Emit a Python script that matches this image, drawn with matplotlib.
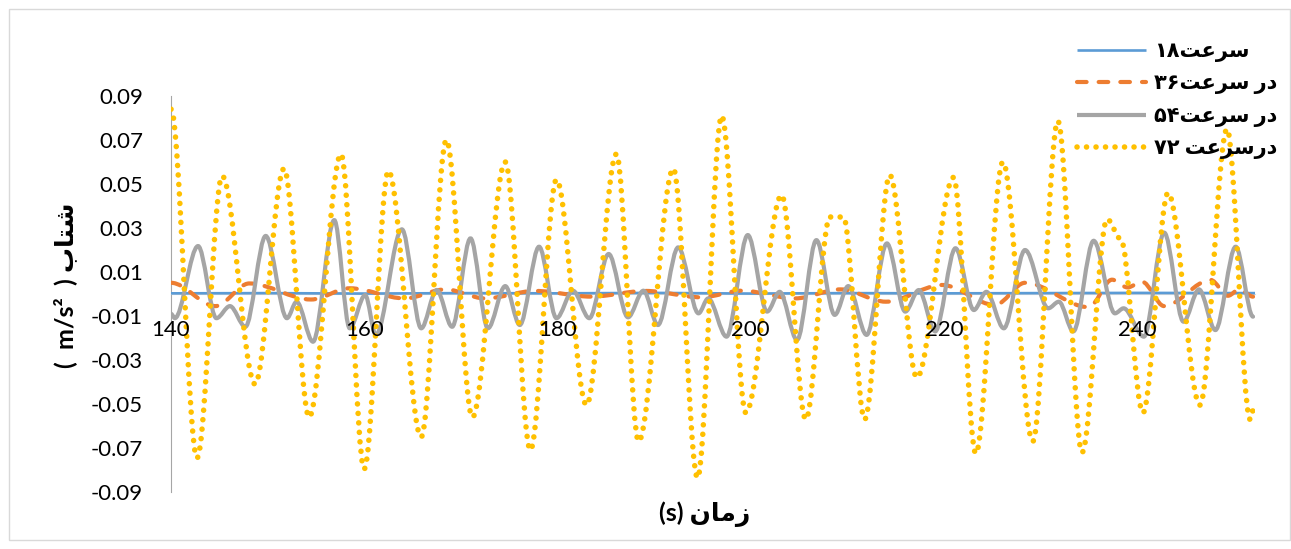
import re
import matplotlib
matplotlib.use("Agg")
import matplotlib.pyplot as plt
from matplotlib.path import Path
from matplotlib.patches import PathPatch, Rectangle
from matplotlib.lines import Line2D
from matplotlib.font_manager import FontProperties

# values: time (s) and acceleration (m/s^2) at the turning points
t18 = [140.0, 150.0, 160.0, 170.0, 180.0, 190.0, 200.0, 210.0, 220.0, 230.0, 240.0, 252.2]
a18 = [0.0003, 0.0004, 0.0002, 0.0004, 0.0003, 0.0005, 0.0002, 0.0004, 0.0003, 0.0004, 0.0005, 0.0004]

t36 = [140.0, 144.6, 148.1, 154.5, 158.5, 164.2, 168.4, 172.5, 177.7, 183.5, 189.1, 194.9,
       199.1, 204.6, 209.3, 214.0, 219.8, 225.3, 228.4, 235.0, 237.4, 239.0, 240.5, 242.8,
       247.6, 249.4, 250.6, 252.0]
a36 = [0.0051, -0.0055, 0.0048, -0.0025, 0.0026, -0.002, 0.0021, -0.002, 0.0014, -0.0012,
       0.0014, -0.0015, 0.0015, -0.002, 0.0021, -0.0035, 0.0041, -0.005, 0.0051, -0.006,
       0.0065, 0.003, 0.0056, -0.0055, 0.0064, -0.0008, 0.0022, -0.0012]

t54 = [140.0, 140.4, 142.8, 144.7, 146.1, 147.7, 149.8, 152.0, 153.0, 154.7, 156.9, 158.5,
       160.1, 161.2, 163.9, 165.9, 167.5, 169.1, 171.0, 172.8, 174.6, 176.1, 178.1, 179.9,
       181.6, 183.3, 185.3, 187.3, 188.9, 190.4, 192.5, 194.6, 195.6, 197.5, 199.7, 201.7,
       203.0, 204.8, 206.8, 208.7, 210.1, 212.0, 214.1, 216.0, 217.4, 219.1, 221.2, 223.1,
       224.4, 226.2, 228.4, 230.8, 231.9, 233.4, 235.5, 237.7, 238.6, 240.7, 242.8, 244.8,
       246.4, 248.1, 250.2, 252.0]
a54 = [-0.009, -0.011, 0.0218, -0.011, -0.0055, -0.0149, 0.0264, -0.011, -0.0035, -0.0217,
       0.0336, -0.0156, -0.0005, -0.0186, 0.0294, -0.0156, 0.0018, -0.0149, 0.0253, -0.0156,
       0.0036, -0.0141, 0.0215, -0.011, 0.0015, -0.011, 0.0182, -0.0106, 0.0015, -0.0141,
       0.0212, -0.0088, -0.002, -0.0194, 0.0268, -0.008, 0.001, -0.0209, 0.0245, -0.0095,
       0.0036, -0.0186, 0.023, -0.008, 0.0018, -0.017, 0.0208, -0.0073, 0.001, -0.0156,
       0.020, -0.0065, -0.0035, -0.017, 0.0242, -0.0088, -0.0065, -0.0194, 0.0279, -0.0126,
       0.0021, -0.0164, 0.0215, -0.0103]

t72 = [140.0, 142.7, 145.3, 148.7, 151.7, 154.3, 157.6, 160.0, 162.5, 165.9, 168.5, 171.2,
       174.6, 177.2, 179.9, 183.0, 186.1, 188.4, 192.0, 194.5, 197.0, 199.5, 203.2, 205.7,
       208.2, 209.6, 211.8, 214.4, 217.2, 221.0, 223.3, 226.1, 229.2, 231.8, 234.3, 236.9,
       238.3, 240.6, 243.2, 246.5, 249.3, 251.7, 252.2]
a72 = [0.084, -0.0745, 0.0536, -0.041, 0.057, -0.056, 0.0636, -0.0795, 0.056, -0.065, 0.070,
       -0.056, 0.060, -0.071, 0.052, -0.0505, 0.0636, -0.067, 0.057, -0.0836, 0.081, -0.054,
       0.045, -0.057, 0.035, 0.035, -0.057, 0.054, -0.038, 0.053, -0.0725, 0.060, -0.067,
       0.0786, -0.072, 0.034, 0.025, -0.054, 0.046, -0.0505, 0.075, -0.057, -0.050]

labels = ["سرعت۱۸", "در سرعت۳۶", "در سرعت۵۴", "درسرعت ۷۲"]
colors = ["#5B9BD5", "#ED7D31", "#A5A5A5", "#FFC000"]
xticks = [140, 160, 180, 200, 220, 240]
yticks = [-0.09, -0.07, -0.05, -0.03, -0.01, 0.01, 0.03, 0.05, 0.07, 0.09]

# matplotlib does no arabic shaping / bidi, so do it by hand with presentation forms
FORMS = {
    "ا": ("\ufe8d", "\ufe8e"),
    "د": ("\ufea9", "\ufeaa"),
    "ر": ("\ufead", "\ufeae"),
    "ز": ("\ufeaf", "\ufeb0"),
    "ب": ("\ufe8f", "\ufe90", "\ufe91", "\ufe92"),
    "ت": ("\ufe95", "\ufe96", "\ufe97", "\ufe98"),
    "س": ("\ufeb1", "\ufeb2", "\ufeb3", "\ufeb4"),
    "ش": ("\ufeb5", "\ufeb6", "\ufeb7", "\ufeb8"),
    "ع": ("\ufec9", "\ufeca", "\ufecb", "\ufecc"),
    "م": ("\ufee1", "\ufee2", "\ufee3", "\ufee4"),
    "ن": ("\ufee5", "\ufee6", "\ufee7", "\ufee8"),
}


def shape(word):
    out = []
    for i, ch in enumerate(word):
        if ch not in FORMS:
            out.append(ch)
            continue
        prev = word[i - 1] if i > 0 else ""
        nxt = word[i + 1] if i + 1 < len(word) else ""
        join_prev = prev in FORMS and len(FORMS[prev]) == 4
        join_next = nxt in FORMS and len(FORMS[ch]) == 4
        f = FORMS[ch]
        if join_prev and join_next:
            out.append(f[3])
        elif join_next:
            out.append(f[2])
        elif join_prev:
            out.append(f[1])
        else:
            out.append(f[0])
    return "".join(out)


def rtl(text):
    runs = re.findall(r"[\u0621-\u064A]+(?:\s+[\u0621-\u064A]+)*|[^\u0621-\u064A]+", text)
    vis = []
    for r in reversed(runs):
        if r[0] in FORMS:
            vis.append(shape(r)[::-1])
        else:
            lead = len(r) - len(r.lstrip())
            trail = len(r) - len(r.rstrip())
            vis.append(" " * trail + r.strip() + " " * lead)
    return "".join(vis)


def smooth(x, y):
    # excel-like smoothed line through the points (flat tangent at each one)
    verts = [(x[0], y[0])]
    codes = [Path.MOVETO]
    for i in range(len(x) - 1):
        dx = (x[i + 1] - x[i]) / 3
        verts += [(x[i] + dx, y[i]), (x[i + 1] - dx, y[i + 1]), (x[i + 1], y[i + 1])]
        codes += [Path.CURVE4] * 3
    return Path(verts, codes)


fa_font = ["Lato", "DejaVu Sans"]

fig = plt.figure(figsize=(12.91, 5.49), dpi=100)
ax = fig.add_axes([171 / 1291, 1 - 492 / 549, (1255 - 171) / 1291, (492 - 96) / 549])

styles = [
    dict(lw=1.9, ls="-"),
    dict(lw=3.0, ls=(0, (2.3, 2.9))),
    dict(lw=3.0, ls="-"),
    dict(lw=4.0, ls=(0, (0.01, 1.7))),
]
series = [(t18, a18), (t36, a36), (t54, a54), (t72, a72)]
handles = []
for k, ((tx, ay), c, st) in enumerate(zip(series, colors, styles)):
    ax.add_patch(PathPatch(smooth(tx, ay), fill=False, ec=c, lw=st["lw"], ls=st["ls"],
                           capstyle="round", joinstyle="round", zorder=3 + k))
    handles.append(Line2D([], [], color=c, lw=st["lw"], ls=st["ls"],
                          dash_capstyle="round", solid_capstyle="butt"))

ax.set_xlim(140, 252.2)
ax.set_ylim(-0.09, 0.09)
ax.spines[["top", "right"]].set_visible(False)
ax.spines["bottom"].set_position(("data", 0))
ax.spines["bottom"].set_color("#D9D9D9")
ax.spines["left"].set_color("#A6A6A6")
ax.spines["left"].set_zorder(1)
ax.xaxis.set_zorder(10)  # tick labels sit on top of the curves

ax.set_xticks(xticks)
ax.set_xticklabels([str(v) for v in xticks])
ax.set_yticks(yticks)
ax.set_yticklabels([f"{v:.2f}" for v in yticks])
ax.tick_params(length=0, labelsize=16)
ax.tick_params(axis="x", pad=19)
ax.tick_params(axis="y", pad=20)
for lab in ax.get_xticklabels() + ax.get_yticklabels():
    lab.set_fontfamily("Lato")

fig.text(705 / 1291, 1 - 514 / 549, rtl("زمان (s)"), ha="center", va="center",
         family=fa_font, weight="bold", fontsize=18)
fig.text(65 / 1291, 1 - 285 / 549, rtl("شتاب (  m/s²  )"), ha="center", va="center",
         rotation=90, family=fa_font, weight="bold", fontsize=18)

fig.legend(handles, [rtl(s) for s in labels], loc="upper left",
           bbox_to_anchor=(1077 / 1291, 1 - 41 / 549), frameon=False, borderpad=0,
           borderaxespad=0, handlelength=3.3, handletextpad=0.4, labelspacing=0.55,
           prop=FontProperties(family=fa_font, weight="bold", size=15))

fig.add_artist(Rectangle((9 / 1291, 9 / 549), 1281 / 1291, 531 / 549,
                         transform=fig.transFigure, fill=False, ec="#D9D9D9", lw=1))

fig.savefig("out.png", dpi=100)
